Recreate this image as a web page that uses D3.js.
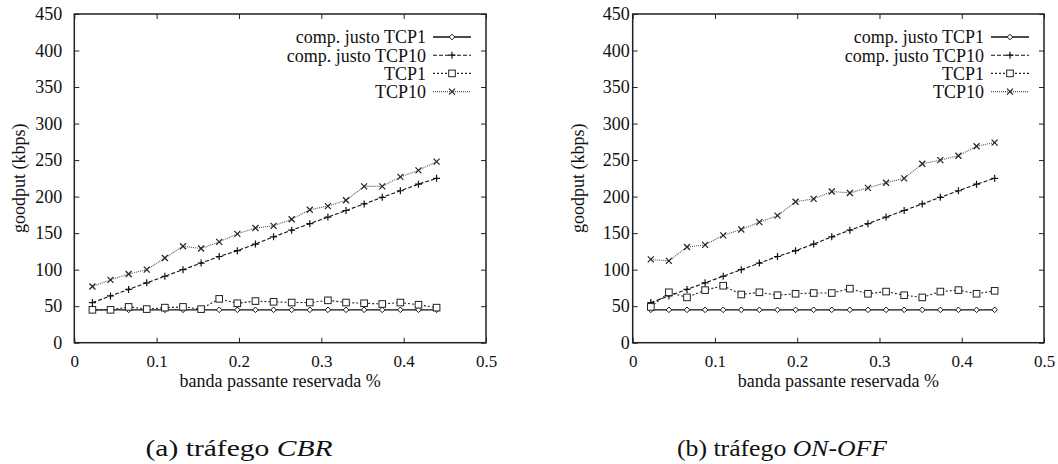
<!DOCTYPE html>
<html>
<head>
<meta charset="utf-8">
<script src="https://cdn.jsdelivr.net/npm/d3@7"></script>
<style>
  body { margin: 0; background: #fff; }
</style>
</head>
<body>
<svg id="chart" width="1058" height="464" font-family="Liberation Serif, serif"></svg>
<script>
// reserved bandwidth (x values), same for both panels
const bandwidth = [0.022, 0.044, 0.066, 0.088, 0.11, 0.132, 0.154, 0.176, 0.198, 0.22,
                   0.242, 0.264, 0.286, 0.308, 0.33, 0.352, 0.374, 0.396, 0.418, 0.44]

const fairTCP1 = [45, 45, 45, 45, 45, 45, 45, 45, 45, 45, 45, 45, 45, 45, 45, 45, 45, 45, 45, 45]
const fairTCP10 = [55, 64, 73, 82, 91, 100, 109, 118, 126, 135, 145, 154, 163, 172, 181, 190, 199, 208, 217, 225]

// (a) CBR
const cbrTCP1 = [45, 45, 49, 46, 48, 49, 46, 60, 54, 57, 56, 55, 55, 58, 55, 54, 53, 55, 52, 48]
const cbrTCP10 = [77, 86, 94, 100, 116, 132, 129, 138, 149, 157, 160, 169, 182, 187, 195, 214, 214, 227, 236, 248]

// (b) ON-OFF
const onoffTCP1 = [49, 69, 62, 72, 78, 66, 69, 65, 67, 68, 68, 74, 67, 70, 65, 62, 70, 72, 67, 71]
const onoffTCP10 = [114, 112, 131, 134, 147, 155, 165, 174, 193, 197, 207, 205, 212, 219, 225, 245, 250, 256, 269, 274]

const xTicks = [0, 0.1, 0.2, 0.3, 0.4, 0.5]
const yTicks = [0, 50, 100, 150, 200, 250, 300, 350, 400, 450]
const legendNames = ['comp. justo TCP1', 'comp. justo TCP10', 'TCP1', 'TCP10']

const FONT = '"Liberation Serif", serif'
const svg = d3.select('#chart')

const styles = [
    { dash: null, color: '#111', width: 1.3, marker: 'diamond' },
    { dash: '4,2', color: '#111', width: 1.1, marker: 'plus' },
    { dash: '2,2', color: '#222', width: 1.1, marker: 'square' },
    { dash: '1,1', color: '#555', width: 1.1, marker: 'cross' }
]

const drawMarker = (g, type, x, y) => {
    if (type === 'diamond') {
        g.append('path').attr('d', `M${x},${y - 2.8}L${x + 2.8},${y}L${x},${y + 2.8}L${x - 2.8},${y}Z`)
            .attr('fill', '#fff').attr('stroke', '#111').attr('stroke-width', 1)
    } else if (type === 'plus') {
        g.append('path').attr('d', `M${x - 3.5},${y}H${x + 3.5}M${x},${y - 3.5}V${y + 3.5}`)
            .attr('stroke', '#111').attr('stroke-width', 1.2)
    } else if (type === 'square') {
        g.append('rect').attr('x', x - 3.3).attr('y', y - 3.3).attr('width', 6.6).attr('height', 6.6)
            .attr('fill', '#fff').attr('stroke', '#222').attr('stroke-width', 1)
    } else {
        g.append('path').attr('d', `M${x - 3},${y - 3}L${x + 3},${y + 3}M${x - 3},${y + 3}L${x + 3},${y - 3}`)
            .attr('stroke', '#222').attr('stroke-width', 1.2)
    }
}

const renderPanel = (left, right, labelPad, ylabelX, series, caption, captionX, captionW) => {
    const plotTop = 14, plotBottom = 342.7

    const xScale = d3.scaleLinear().domain([0, 0.5]).range([left, right])
    const yScale = d3.scaleLinear().domain([0, 450]).range([plotBottom, plotTop])

    const g = svg.append('g')

    // ticks, inward on all four sides
    const xAxis = d3.axisBottom(xScale).tickValues(xTicks).tickSize(-5).tickPadding(12)
        .tickFormat(d => d === 0 ? '0' : d3.format('.1f')(d))
    const xAxisG = g.append('g').attr('transform', `translate(0,${plotBottom})`).call(xAxis)
    xAxisG.select('.domain').remove()
    xAxisG.selectAll('text')
        .style('font-family', FONT).style('font-size', '17px')
        .attr('fill', '#111').attr('dy', '0.71em')

    g.append('g').attr('transform', `translate(0,${plotTop})`)
        .call(d3.axisTop(xScale).tickValues(xTicks).tickSize(-5).tickFormat(''))
        .select('.domain').remove()

    const yAxisG = g.append('g').attr('transform', `translate(${left},0)`)
        .call(d3.axisLeft(yScale).tickValues(yTicks).tickSize(-5).tickPadding(labelPad))
    yAxisG.select('.domain').remove()
    yAxisG.selectAll('text')
        .style('font-family', FONT).style('font-size', '18px')
        .attr('fill', '#111')

    g.append('g').attr('transform', `translate(${right},0)`)
        .call(d3.axisRight(yScale).tickValues(yTicks).tickSize(-5).tickFormat(''))
        .select('.domain').remove()

    g.selectAll('.tick line').attr('stroke', '#222').attr('stroke-width', 1)

    g.append('rect')
        .attr('x', left).attr('y', plotTop)
        .attr('width', right - left).attr('height', plotBottom - plotTop)
        .attr('fill', 'none').attr('stroke', '#222').attr('stroke-width', 1.5)

    g.append('text')
        .attr('x', (left + right) / 2).attr('y', 387)
        .attr('text-anchor', 'middle').attr('fill', '#111')
        .style('font-family', FONT).style('font-size', '18px')
        .text('banda passante reservada %')

    g.append('text')
        .attr('transform', `translate(${ylabelX},${(plotTop + plotBottom) / 2}) rotate(-90)`)
        .attr('text-anchor', 'middle').attr('dy', '0.35em').attr('fill', '#111')
        .style('font-family', FONT).style('font-size', '18px')
        .text('goodput (kbps)')

    const line = d3.line()
        .x((d, i) => xScale(bandwidth[i]))
        .y(d => yScale(d))

    series.forEach((values, k) => {
        const s = styles[k]
        g.append('path')
            .attr('d', line(values))
            .attr('fill', 'none')
            .attr('stroke', s.color)
            .attr('stroke-width', s.width)
            .attr('stroke-dasharray', s.dash)
        const mg = g.append('g')
        values.forEach((v, i) => drawMarker(mg, s.marker, xScale(bandwidth[i]), yScale(v)))
    })

    // legend
    legendNames.forEach((name, k) => {
        const s = styles[k]
        const y = 37 + k * 18.2
        g.append('text')
            .attr('x', right - 60).attr('y', y).attr('dy', '0.35em')
            .attr('text-anchor', 'end').attr('fill', '#111')
            .style('font-family', FONT).style('font-size', '18px')
            .text(name)
        g.append('line')
            .attr('x1', right - 53).attr('x2', right - 15)
            .attr('y1', y).attr('y2', y)
            .attr('stroke', s.color)
            .attr('stroke-width', k === 0 ? 1.6 : s.width)
            .attr('stroke-dasharray', s.dash)
        drawMarker(g, s.marker, right - 34, y)
    })

    const cap = svg.append('text')
        .attr('x', captionX).attr('y', 456)
        .attr('text-anchor', 'middle').attr('fill', '#111')
        .style('font-family', FONT).style('font-size', '24px')
        .attr('textLength', captionW)
        .attr('lengthAdjust', 'spacingAndGlyphs')
    cap.append('tspan').text(caption[0])
    cap.append('tspan').attr('font-style', 'italic').text(caption[1])
}

renderPanel(74.3, 486, 12, 19, [fairTCP1, fairTCP10, cbrTCP1, cbrTCP10],
    ['(a) tráfego ', 'CBR'], 239, 187)
renderPanel(632.7, 1044, 3, 578, [fairTCP1, fairTCP10, onoffTCP1, onoffTCP10],
    ['(b) tráfego ', 'ON-OFF'], 782, 210)
</script>
</body>
</html>
